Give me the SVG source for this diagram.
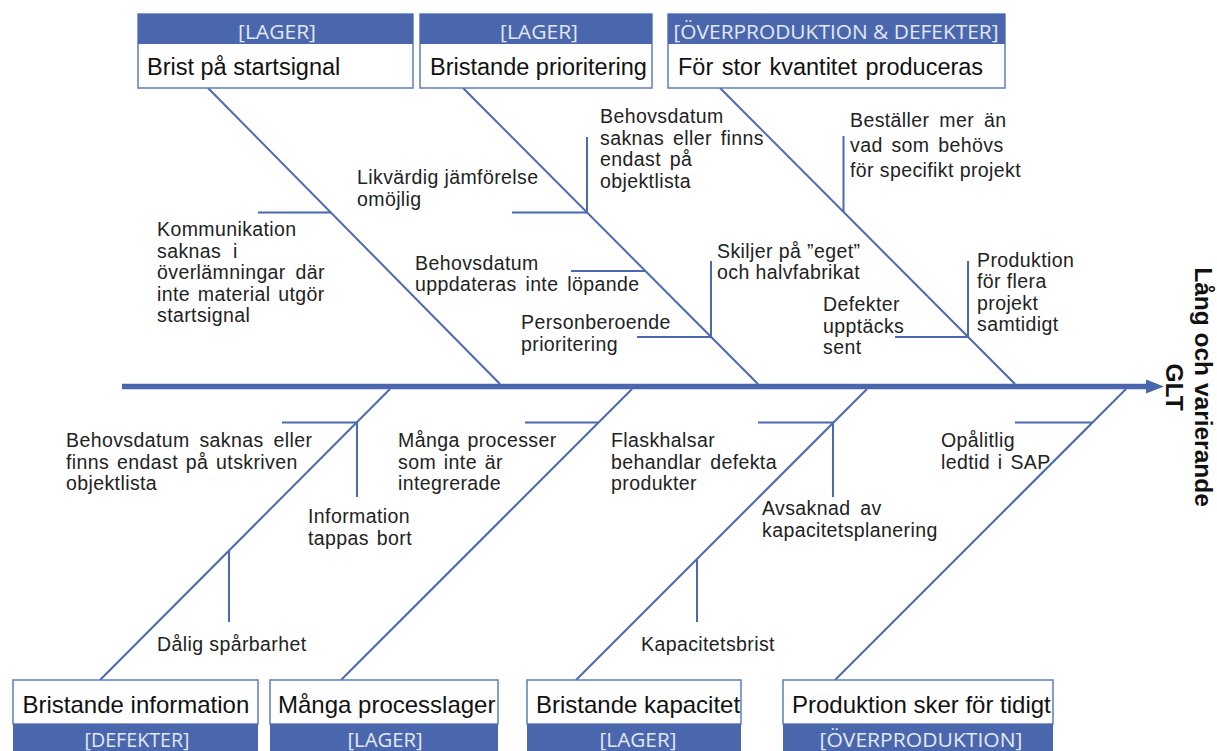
<svg xmlns="http://www.w3.org/2000/svg" width="1217" height="751" viewBox="0 0 1217 751">
  <style>
    .bone{stroke:#4b69b0;stroke-width:2;fill:none}
    .spine{stroke:#4a67ae;stroke-width:5.5;fill:none}
    .box{fill:#ffffff;stroke:#5b7cc2;stroke-width:1.5}
    .hdr{fill:#4a67ae}
    .htxt{font-family:"Open Sans","Noto Sans",sans-serif;font-size:20.5px;fill:#e3e8f5;text-anchor:middle}
    .btxt{font-family:"Liberation Sans",Arial,sans-serif;font-size:23.5px;fill:#111111}
    .btxt2{font-family:"Liberation Sans",Arial,sans-serif;font-size:24px;fill:#111111}
    .lbl{font-family:"Liberation Sans",Arial,sans-serif;font-size:19.5px;fill:#222222;letter-spacing:0.4px}
    .title{font-family:"Liberation Sans",Arial,sans-serif;font-size:24.5px;font-weight:bold;fill:#111111;text-anchor:middle}
  </style>
  <rect width="1217" height="751" fill="#ffffff"/>

  <!-- spine, bones and sub-bones -->
  <g id="connectors">
    <line class="spine" x1="122" y1="386.5" x2="1148" y2="386.5"/>
    <polygon points="1146,379.5 1164,386.5 1146,393.5" fill="#4a67ae"/>

    <!-- upper bones -->
    <line class="bone" x1="208" y1="88" x2="500" y2="384"/>
    <line class="bone" x1="463" y1="88" x2="758" y2="384"/>
    <line class="bone" x1="720" y1="88" x2="1015" y2="384"/>

    <line class="bone" x1="258" y1="212.5" x2="331" y2="212.5"/>

    <polyline class="bone" points="512,212.5 587,212.5 587,137"/>
    <line class="bone" x1="571" y1="271" x2="645" y2="271"/>
    <polyline class="bone" points="637,337 711,337 711,261"/>

    <line class="bone" x1="843.5" y1="136" x2="843.5" y2="212"/>
    <polyline class="bone" points="895,337 968,337 968,261"/>

    <!-- lower bones -->
    <line class="bone" x1="390" y1="389" x2="100" y2="680"/>
    <line class="bone" x1="632" y1="389" x2="341" y2="680"/>
    <line class="bone" x1="867" y1="389" x2="576" y2="680"/>
    <line class="bone" x1="1126" y1="389" x2="835" y2="680"/>

    <polyline class="bone" points="282,422.5 357,422.5 357,497"/>
    <line class="bone" x1="229" y1="550" x2="229" y2="622"/>
    <line class="bone" x1="525" y1="422.5" x2="598" y2="422.5"/>
    <polyline class="bone" points="758,422.5 833,422.5 833,497"/>
    <line class="bone" x1="697" y1="559" x2="697" y2="622"/>
    <line class="bone" x1="1015" y1="422.5" x2="1092" y2="422.5"/>
  </g>

  <!-- upper category boxes -->
  <g id="cat-brist-startsignal">
    <rect class="box" x="138" y="14" width="275" height="74"/>
    <rect class="hdr" x="138" y="14" width="275" height="30"/>
    <text class="htxt" x="277" y="39" textLength="78" lengthAdjust="spacingAndGlyphs">[LAGER]</text>
    <text class="btxt" x="147" y="75">Brist på startsignal</text>
  </g>
  <g id="cat-bristande-prioritering">
    <rect class="box" x="420" y="14" width="232" height="74"/>
    <rect class="hdr" x="420" y="14" width="232" height="30"/>
    <text class="htxt" x="539" y="39" textLength="78" lengthAdjust="spacingAndGlyphs">[LAGER]</text>
    <text class="btxt" x="430" y="75">Bristande prioritering</text>
  </g>
  <g id="cat-for-stor-kvantitet">
    <rect class="box" x="668" y="14" width="337" height="74"/>
    <rect class="hdr" x="668" y="14" width="337" height="30"/>
    <text class="htxt" x="836" y="39" textLength="325" lengthAdjust="spacingAndGlyphs">[ÖVERPRODUKTION &amp; DEFEKTER]</text>
    <text class="btxt" x="678" y="75" word-spacing="2">För stor kvantitet produceras</text>
  </g>

  <!-- lower category boxes -->
  <g id="cat-bristande-information">
    <rect class="box" x="13" y="680" width="245" height="44"/>
    <rect class="hdr" x="13" y="724" width="245" height="36"/>
    <text class="btxt2" x="22.5" y="713">Bristande information</text>
    <text class="htxt" x="137" y="747" textLength="105" lengthAdjust="spacingAndGlyphs">[DEFEKTER]</text>
  </g>
  <g id="cat-manga-processlager">
    <rect class="box" x="270" y="680" width="228" height="44"/>
    <rect class="hdr" x="270" y="724" width="228" height="36"/>
    <text class="btxt2" x="278" y="713">Många processlager</text>
    <text class="htxt" x="385" y="747" textLength="75" lengthAdjust="spacingAndGlyphs">[LAGER]</text>
  </g>
  <g id="cat-bristande-kapacitet">
    <rect class="box" x="527" y="680" width="214" height="44"/>
    <rect class="hdr" x="527" y="724" width="214" height="36"/>
    <text class="btxt2" x="536" y="713">Bristande kapacitet</text>
    <text class="htxt" x="638" y="747" textLength="77" lengthAdjust="spacingAndGlyphs">[LAGER]</text>
  </g>
  <g id="cat-produktion-for-tidigt">
    <rect class="box" x="783" y="680" width="270" height="44"/>
    <rect class="hdr" x="783" y="724" width="270" height="36"/>
    <text class="btxt2" x="792" y="713">Produktion sker för tidigt</text>
    <text class="htxt" x="921" y="747" textLength="203" lengthAdjust="spacingAndGlyphs">[ÖVERPRODUKTION]</text>
  </g>

  <!-- causes, upper half -->
  <g id="cause-kommunikation">
    <text class="lbl" x="157" y="236">
      <tspan x="157">Kommunikation</tspan>
      <tspan x="157" dy="21.6" word-spacing="6">saknas i</tspan>
      <tspan x="157" dy="21.6" word-spacing="4">överlämningar där</tspan>
      <tspan x="157" dy="21.6" word-spacing="2">inte material utgör</tspan>
      <tspan x="157" dy="21.6">startsignal</tspan>
    </text>
  </g>
  <g id="cause-likvardig">
    <text class="lbl" x="357" y="184">
      <tspan x="357">Likvärdig jämförelse</tspan>
      <tspan x="357" dy="21.5">omöjlig</tspan>
    </text>
  </g>
  <g id="cause-behovsdatum-objektlista">
    <text class="lbl" x="600" y="123">
      <tspan x="600">Behovsdatum</tspan>
      <tspan x="600" dy="21.5" word-spacing="3">saknas eller finns</tspan>
      <tspan x="600" dy="21.5" word-spacing="3">endast på</tspan>
      <tspan x="600" dy="21.5">objektlista</tspan>
    </text>
  </g>
  <g id="cause-behovsdatum-uppdateras">
    <text class="lbl" x="415" y="269.5">
      <tspan x="415">Behovsdatum</tspan>
      <tspan x="415" dy="21.3" word-spacing="3">uppdateras inte löpande</tspan>
    </text>
  </g>
  <g id="cause-personberoende">
    <text class="lbl" x="521" y="329">
      <tspan x="521">Personberoende</tspan>
      <tspan x="521" dy="21.8">prioritering</tspan>
    </text>
  </g>
  <g id="cause-skiljer">
    <text class="lbl" x="717" y="258">
      <tspan x="717">Skiljer på ”eget”</tspan>
      <tspan x="717" dy="21">och halvfabrikat</tspan>
    </text>
  </g>
  <g id="cause-bestaller">
    <text class="lbl" x="850" y="127">
      <tspan x="850" word-spacing="4">Beställer mer än</tspan>
      <tspan x="850" dy="25" word-spacing="3">vad som behövs</tspan>
      <tspan x="850" dy="25">för specifikt projekt</tspan>
    </text>
  </g>
  <g id="cause-flera-projekt">
    <text class="lbl" x="977" y="267">
      <tspan x="977">Produktion</tspan>
      <tspan x="977" dy="21.4">för flera</tspan>
      <tspan x="977" dy="21.4">projekt</tspan>
      <tspan x="977" dy="21.4">samtidigt</tspan>
    </text>
  </g>
  <g id="cause-defekter-sent">
    <text class="lbl" x="823" y="311">
      <tspan x="823">Defekter</tspan>
      <tspan x="823" dy="21.5">upptäcks</tspan>
      <tspan x="823" dy="21.5">sent</tspan>
    </text>
  </g>

  <!-- causes, lower half -->
  <g id="cause-utskriven-objektlista">
    <text class="lbl" x="66" y="447">
      <tspan x="66" word-spacing="4">Behovsdatum saknas eller</tspan>
      <tspan x="66" dy="21.5" word-spacing="2">finns endast på utskriven</tspan>
      <tspan x="66" dy="21.5">objektlista</tspan>
    </text>
  </g>
  <g id="cause-information-tappas">
    <text class="lbl" x="308" y="523">
      <tspan x="308">Information</tspan>
      <tspan x="308" dy="21.7" word-spacing="2">tappas bort</tspan>
    </text>
  </g>
  <g id="cause-dalig-sparbarhet">
    <text class="lbl" x="157" y="651">Dålig spårbarhet</text>
  </g>
  <g id="cause-manga-processer">
    <text class="lbl" x="398" y="447">
      <tspan x="398" word-spacing="2">Många processer</tspan>
      <tspan x="398" dy="21.5" word-spacing="2">som inte är</tspan>
      <tspan x="398" dy="21.5">integrerade</tspan>
    </text>
  </g>
  <g id="cause-flaskhalsar">
    <text class="lbl" x="611" y="447">
      <tspan x="611">Flaskhalsar</tspan>
      <tspan x="611" dy="21.5" word-spacing="3">behandlar defekta</tspan>
      <tspan x="611" dy="21.5">produkter</tspan>
    </text>
  </g>
  <g id="cause-kapacitetsplanering">
    <text class="lbl" x="762" y="515">
      <tspan x="762" word-spacing="4">Avsaknad av</tspan>
      <tspan x="762" dy="21.7">kapacitetsplanering</tspan>
    </text>
  </g>
  <g id="cause-kapacitetsbrist">
    <text class="lbl" x="641" y="651">Kapacitetsbrist</text>
  </g>
  <g id="cause-ledtid-sap">
    <text class="lbl" x="941" y="447">
      <tspan x="941">Opålitlig</tspan>
      <tspan x="941" dy="21.5" word-spacing="2">ledtid i SAP</tspan>
    </text>
  </g>

  <!-- effect at the head of the spine -->
  <g id="effect-glt" transform="translate(1188,387) rotate(90)">
    <text class="title" x="0" y="-6.5">Lång och varierande</text>
    <text class="title" x="0" y="22.5">GLT</text>
  </g>
</svg>
